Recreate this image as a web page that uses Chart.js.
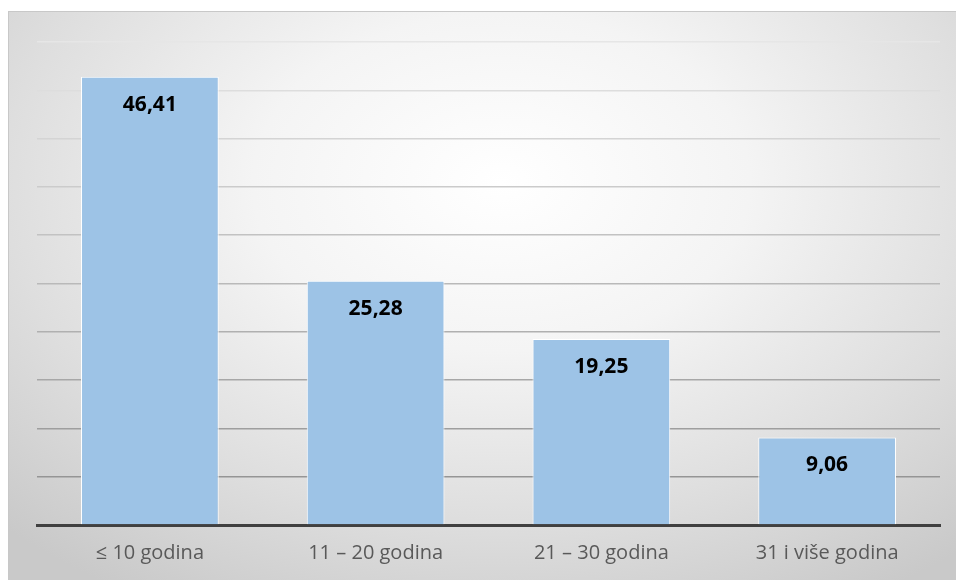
<!DOCTYPE html>
<html>
<head>
<meta charset="utf-8">
<script src="https://cdn.jsdelivr.net/npm/chart.js@4/dist/chart.umd.min.js"></script>
<style>
  html, body { margin: 0; padding: 0; background: #ffffff; overflow: hidden; }
  #wrap {
    position: absolute; left: 8px; top: 11px; width: 948px; height: 569px;
    background: radial-gradient(ellipse 75% 85% at 52% 30%, #ffffff 0%, #f4f4f4 35%, #dedede 70%, #c9c9c9 100%);
    border-top: 1px solid #c8c8c8;
    border-left: 1px solid #c8c8c8;
    box-sizing: border-box;
  }
  canvas { position: absolute; left: -1px; top: -1px; }
</style>
</head>
<body>
<div id="wrap"><canvas id="chart"></canvas></div>
<script>
// Chart data
const categories = ['≤ 10 godina', '11 – 20 godina', '21 – 30 godina', '31 i više godina'];
const values = [46.41, 25.28, 19.25, 9.06];
const yMax = 50;
const yStep = 5;

// Value labels inside the bars, comma decimal
const valueLabels = {
  id: 'valueLabels',
  afterDatasetsDraw(chart) {
    const ctx = chart.ctx;
    const meta = chart.getDatasetMeta(0);
    ctx.save();
    ctx.font = 'bold 21px "Open Sans", sans-serif';
    ctx.fillStyle = '#000000';
    ctx.textAlign = 'center';
    ctx.textBaseline = 'middle';
    meta.data.forEach((bar, i) => {
      ctx.fillText(values[i].toFixed(2).replace('.', ','), bar.x, bar.y + 28);
    });
    ctx.restore();
  }
};

// Gridlines darken towards the bottom
function gridColor(c) {
  const v = c.tick ? c.tick.value : 0;
  const g = Math.round(140 + (230 - 140) * (v / yMax));
  return `rgb(${g},${g},${g})`;
}

const canvas = document.getElementById('chart');
canvas.width = 948;
canvas.height = 569;

new Chart(canvas, {
  type: 'bar',
  data: {
    labels: categories,
    datasets: [{
      data: values,
      backgroundColor: '#9dc3e6',
      borderColor: '#ffffff',
      borderWidth: 1,
      barPercentage: 0.61,
      categoryPercentage: 1.0
    }]
  },
  options: {
    responsive: false,
    animation: false,
    layout: { padding: { left: 29, right: 16, top: 31, bottom: 7 } },
    plugins: {
      legend: { display: false },
      tooltip: { enabled: false }
    },
    scales: {
      x: {
        grid: { display: false },
        border: { display: true, color: '#404040', width: 3 },
        ticks: {
          color: '#595959',
          font: { family: '"Open Sans", sans-serif', size: 20 },
          padding: 8
        }
      },
      y: {
        min: 0,
        max: yMax,
        ticks: { stepSize: yStep, display: false },
        grid: { color: gridColor, lineWidth: 1.5, drawTicks: false },
        border: { display: false }
      }
    }
  },
  plugins: [valueLabels]
});
</script>
</body>
</html>
